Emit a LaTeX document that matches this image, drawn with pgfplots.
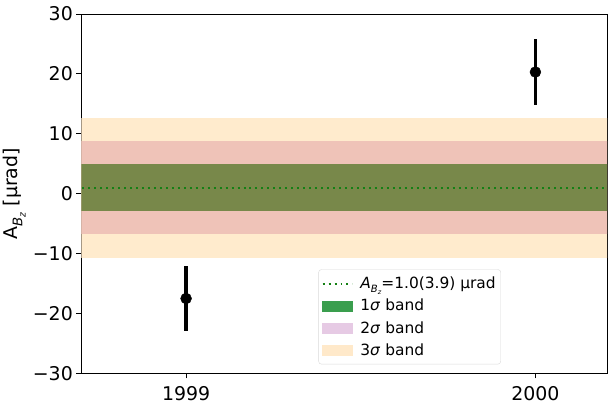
\documentclass[border=0pt]{standalone}
\usepackage{fontspec}
\setmainfont{DejaVu Sans}
\usepackage{pgfplots}
\pgfplotsset{compat=1.18}
\definecolor{bandthree}{RGB}{255,235,205}
\definecolor{bandtwo}{RGB}{239,195,184}
\definecolor{bandone}{RGB}{120,136,74}
\definecolor{legone}{RGB}{58,158,78}
\definecolor{legtwo}{RGB}{230,202,228}
\definecolor{legthree}{RGB}{255,233,202}
\definecolor{dotgreen}{RGB}{20,128,20}
\newcommand{\ABz}{A\raisebox{-0.25em}{\scalebox{0.7}{\textit{B}\raisebox{-0.25em}{\scalebox{0.7}{\textit{z}}}}}}
\newcommand{\ABzi}{\textit{A}\raisebox{-0.22em}{\scalebox{0.65}{\textit{B}\raisebox{-0.25em}{\scalebox{0.65}{\textit{z}}}}}}
\begin{document}
\begin{tikzpicture}
\begin{axis}[
  name=ax,
  scale only axis, width=528pt, height=361pt,
  xmin=1998.70, xmax=2000.205, ymin=-30, ymax=30,
  xtick={1999,2000}, xticklabels={1999,2000},
  ytick={-30,-20,-10,0,10,20,30}, yticklabels={−30,−20,−10,0,10,20,30},
  tick align=outside, tick pos=left,
  major tick length=5pt,
  tick style={black, line width=0.8pt},
  axis line style={line width=0.8pt},
  every tick label/.append style={font=\fontsize{19}{21}\selectfont},
  every x tick label/.append style={yshift=-5pt},
  every axis y label/.style={at={(axis description cs:-0.127,0.5)}, rotate=90, anchor=center, font=\fontsize{19}{21}\selectfont},
  ylabel={\ABz\ [µrad]},
  legend style={at={(0.451,0.025)}, anchor=south west, draw=black!15, rounded corners=3pt,
    font=\fontsize{15.5}{18}\selectfont, row sep=5pt, inner xsep=3pt, inner ysep=5.5pt},
  legend cell align=left,
]
\addplot[fill=bandthree, draw=none, forget plot] coordinates {(1998.6,-10.7) (2000.3,-10.7) (2000.3,12.7) (1998.6,12.7)};
\addplot[fill=bandtwo, draw=none, forget plot] coordinates {(1998.6,-6.8) (2000.3,-6.8) (2000.3,8.8) (1998.6,8.8)};
\addplot[fill=bandone, draw=none, forget plot] coordinates {(1998.6,-2.9) (2000.3,-2.9) (2000.3,4.9) (1998.6,4.9)};
\addplot[dotgreen, line width=2pt, dash pattern=on 2pt off 4pt, forget plot] coordinates {(1998.6,1.0) (2000.3,1.0)};
\addlegendimage{legend image code/.code={\draw[dotgreen, line width=2pt, dash pattern=on 2pt off 4pt, sharp corners] (0pt,0pt) -- (30pt,0pt);}}
\addlegendentry{\hspace{5pt}\ABzi=1.0(3.9) µrad}
\addlegendimage{legend image code/.code={\fill[legone, sharp corners] (0pt,-5pt) rectangle (30pt,5pt);}}
\addlegendentry{\hspace{5pt}1\textit{σ} band}
\addlegendimage{legend image code/.code={\fill[legtwo, sharp corners] (0pt,-5pt) rectangle (30pt,5pt);}}
\addlegendentry{\hspace{5pt}2\textit{σ} band}
\addlegendimage{legend image code/.code={\fill[legthree, sharp corners] (0pt,-5pt) rectangle (30pt,5pt);}}
\addlegendentry{\hspace{5pt}3\textit{σ} band}
\addplot[black, only marks, mark=*, mark size=5.5pt, forget plot,
  error bars/.cd, y dir=both, y explicit, error mark=none,
  error bar style={line width=3.2pt}] coordinates {(1999,-17.5) +- (0,5.5) (2000,20.3) +- (0,5.55)};
\end{axis}
\path ([xshift=-79pt,yshift=-32pt]ax.south west) rectangle ([xshift=4pt,yshift=14pt]ax.north east);
\end{tikzpicture}
\end{document}
